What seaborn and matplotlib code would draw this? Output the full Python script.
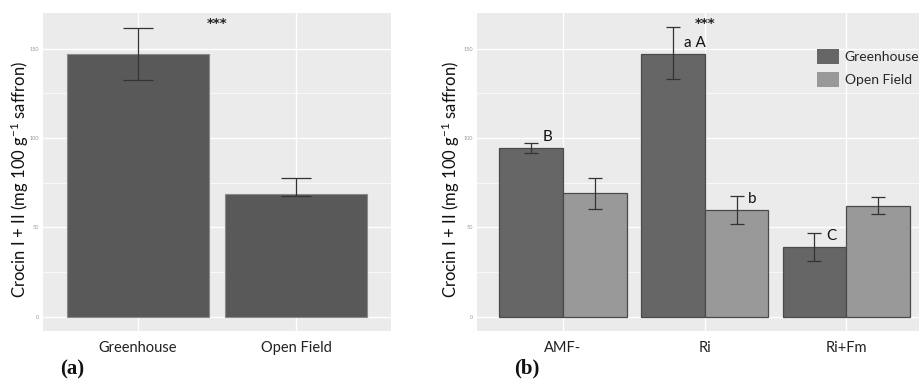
import numpy as np
import pandas as pd
import matplotlib
matplotlib.use("Agg")
import matplotlib.pyplot as plt
import seaborn as sns
from matplotlib.ticker import MultipleLocator

# ---------------- data ----------------
sites = ["Greenhouse", "Open Field"]
site_mean = [147.2, 68.9]
site_low = [132.6, 67.8]
site_high = [161.8, 77.5]

treatments = ["AMF-", "Ri", "Ri+Fm"]
gh_mean = [94.4, 147.4, 38.8]
gh_low = [91.6, 132.9, 31.0]
gh_high = [97.2, 162.0, 46.6]
of_mean = [69.2, 59.9, 62.2]
of_low = [60.5, 52.1, 57.5]
of_high = [77.6, 67.8, 67.0]

# letters: (hue, treatment, label, y)
letters_hue = ["Greenhouse", "Greenhouse", "Open Field", "Greenhouse"]
letters_trt = ["AMF-", "Ri", "Ri", "Ri+Fm"]
letters_txt = ["B", "a A", "b", "C"]
letters_y = [100.8, 153.4, 66.0, 45.4]

ylabel = "Crocin I + II (mg 100 g$^{-1}$ saffron)"

# ---------------- style ----------------
sns.set_theme(style="white")
plt.rcParams["font.family"] = ["Lato", "DejaVu Sans"]
plt.rcParams["mathtext.fontset"] = "custom"
plt.rcParams["mathtext.rm"] = "Lato"
plt.rcParams["mathtext.it"] = "Lato"

W, H = 919, 379
fig = plt.figure(figsize=(W / 100, H / 100), dpi=100)
fig.patch.set_facecolor("white")

YLIM = (-8.1, 170.1)


def px_axes(left, top, right, bottom):
    return fig.add_axes([left / W, 1 - bottom / H, (right - left) / W, (bottom - top) / H])


def style_axes(ax):
    ax.set_facecolor("#EBEBEB")
    for s in ax.spines.values():
        s.set_visible(False)
    ax.set_ylim(*YLIM)
    ax.yaxis.set_major_locator(MultipleLocator(50))
    ax.yaxis.set_minor_locator(MultipleLocator(25))
    ax.grid(which="major", axis="both", color="white", linewidth=1.0)
    ax.grid(which="minor", axis="y", color="white", linewidth=0.5)
    ax.set_axisbelow(True)
    ax.tick_params(axis="y", which="major", labelsize=4, colors="#9a9a9a", length=2, width=0.6, pad=1)
    ax.tick_params(axis="y", which="minor", length=0)
    ax.tick_params(axis="x", which="major", labelsize=10.5, labelcolor="#222222", colors="#9a9a9a",
                   length=2, width=0.6, pad=5)
    ax.set_xlabel("")
    ax.set_ylabel("")


STAR_FONT = dict(fontsize=9.5, family=["DejaVu Sans"], color="#222222", fontweight="bold")

# ---------------- panel (a) ----------------
axa = px_axes(43, 13, 391, 331)
dfa = pd.DataFrame({"site": sites, "value": site_mean})
sns.barplot(data=dfa, x="site", y="value", order=sites, color="#595959", saturation=1,
            width=0.9, errorbar=None, edgecolor="#8a8a8a", linewidth=0.8, ax=axa)
xa = [p.get_x() + p.get_width() / 2 for p in axa.containers[0].patches]
axa.errorbar(xa, site_mean,
             yerr=[np.array(site_mean) - np.array(site_low), np.array(site_high) - np.array(site_mean)],
             fmt="none", ecolor="#333333", elinewidth=0.9, capsize=11, capthick=0.9, zorder=5)
axa.set_xlim(-0.6, 1.6)
style_axes(axa)
axa.text(0.5, 164, "***", ha="center", va="center", **STAR_FONT)
fig.text(20 / W, 1 - 179 / H, ylabel, rotation=90, ha="center", va="center", fontsize=12, color="#111111")
fig.text(72 / W, 1 - 369 / H, "(a)", ha="center", va="center", fontsize=15, fontweight="bold",
         family=["Liberation Serif"], color="#111111")

# ---------------- panel (b) ----------------
axb = px_axes(477, 13, 477 + 3.2 * 142, 331)
dfb = pd.DataFrame({
    "treatment": treatments * 2,
    "site": ["Greenhouse"] * 3 + ["Open Field"] * 3,
    "value": gh_mean + of_mean,
})
sns.barplot(data=dfb, x="treatment", y="value", hue="site", order=treatments, hue_order=sites,
            palette={"Greenhouse": "#666666", "Open Field": "#999999"}, saturation=1,
            width=0.9, errorbar=None, edgecolor="#4a4a4a", linewidth=0.9, ax=axb, legend=False)
bar_containers = list(axb.containers)

centers = {}
lows = {"Greenhouse": gh_low, "Open Field": of_low}
highs = {"Greenhouse": gh_high, "Open Field": of_high}
means = {"Greenhouse": gh_mean, "Open Field": of_mean}
for site, cont in zip(sites, bar_containers):
    xs = [p.get_x() + p.get_width() / 2 for p in cont.patches]
    for t, x in zip(treatments, xs):
        centers[(site, t)] = x
    m = np.array(means[site])
    axb.errorbar(xs, m, yerr=[m - np.array(lows[site]), np.array(highs[site]) - m],
                 fmt="none", ecolor="#333333", elinewidth=0.9, capsize=5, capthick=0.9, zorder=5)

axb.set_xlim(-0.606, 2.6)
style_axes(axb)
for h, t, s, y in zip(letters_hue, letters_trt, letters_txt, letters_y):
    axb.text(centers[(h, t)] + 0.08, y, s, ha="left", va="center", fontsize=11, color="#111111")
axb.text(1.0, 164, "***", ha="center", va="center", **STAR_FONT)

handles = [c.patches[0] for c in bar_containers]
leg = axb.legend(handles, sites, loc="upper left", bbox_to_anchor=(817 / W, 1 - 49 / H),
                 bbox_transform=fig.transFigure, frameon=False, fontsize=10,
                 handlelength=1.6, handleheight=1.3, labelspacing=0.55, handletextpad=0.4,
                 borderpad=0, borderaxespad=0)
for hdl in leg.legend_handles:
    hdl.set_edgecolor("none")

fig.text(451 / W, 1 - 179 / H, ylabel, rotation=90, ha="center", va="center", fontsize=12, color="#111111")
fig.text(527 / W, 1 - 368 / H, "(b)", ha="center", va="center", fontsize=15, fontweight="bold",
         family=["Liberation Serif"], color="#111111")

fig.savefig("out.png", dpi=100, facecolor="white")
